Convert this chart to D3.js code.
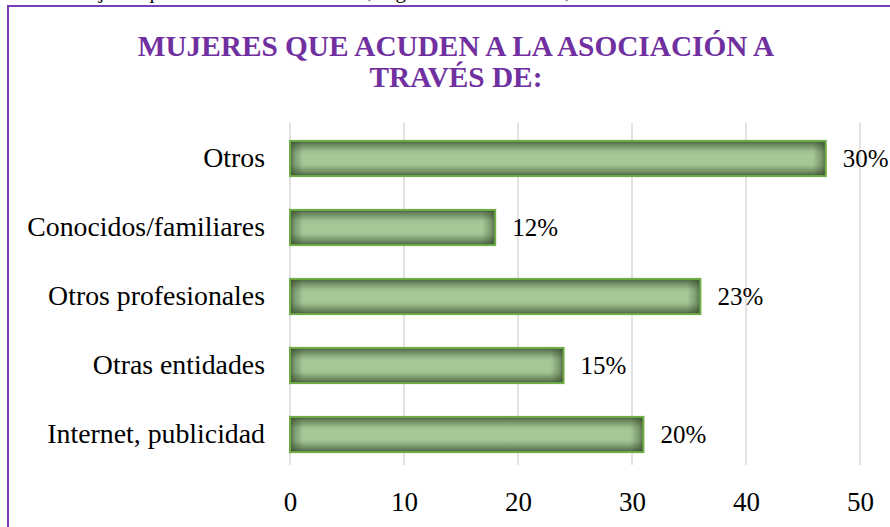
<!DOCTYPE html>
<html>
<head>
<meta charset="utf-8">
<script src="https://cdn.jsdelivr.net/npm/d3@7"></script>
<style>
  html, body { margin: 0; padding: 0; background: #fff; overflow: hidden; }
  svg { display: block; }
</style>
</head>
<body>
<script>
// ---- data ----
const categories = ["Otros", "Conocidos/familiares", "Otros profesionales", "Otras entidades", "Internet, publicidad"];
const values = [47, 18, 36, 24, 31];
const percentLabels = ["30%", "12%", "23%", "15%", "20%"];
const tickValues = [0, 10, 20, 30, 40, 50];
const titleLines = ["MUJERES QUE ACUDEN A LA ASOCIACIÓN A", "TRAVÉS DE:"];

const W = 890, H = 527;
const FONT = "Liberation Serif, DejaVu Serif, Times, serif";
const svg = d3.select("body").append("svg").attr("width", W).attr("height", H);

const defs = svg.append("defs");
const shade = "#2f4427";
const gv = defs.append("linearGradient").attr("id", "gv").attr("x1", 0).attr("y1", 0).attr("x2", 0).attr("y2", 1);
[[0, 0.8], [0.1, 0.5], [0.3, 0.06], [0.4, 0], [0.6, 0], [0.7, 0.06], [0.9, 0.5], [1, 0.8]].forEach(([o, a]) =>
  gv.append("stop").attr("offset", o).attr("stop-color", shade).attr("stop-opacity", a));
const gl = defs.append("linearGradient").attr("id", "gl").attr("x1", 0).attr("y1", 0).attr("x2", 1).attr("y2", 0);
[[0, 0.7], [0.35, 0.35], [1, 0]].forEach(([o, a]) =>
  gl.append("stop").attr("offset", o).attr("stop-color", shade).attr("stop-opacity", a));
const gr = defs.append("linearGradient").attr("id", "gr").attr("x1", 1).attr("y1", 0).attr("x2", 0).attr("y2", 0);
[[0, 0.7], [0.35, 0.35], [1, 0]].forEach(([o, a]) =>
  gr.append("stop").attr("offset", o).attr("stop-color", shade).attr("stop-opacity", a));

// cropped text line above the frame
svg.append("text")
  .attr("x", 72).attr("y", -2)
  .style("font-family", FONT)
  .attr("font-size", 21).attr("fill", "#000")
  .text("mujeres que acuden a la asociación, según la vía de acceso,");

// frame
svg.append("rect")
  .attr("x", 8).attr("y", 6).attr("width", W + 60).attr("height", H + 60)
  .attr("fill", "none").attr("stroke", "#7a3fb4").attr("stroke-width", 2);

// title
svg.append("g").selectAll("text").data(titleLines).join("text")
  .attr("x", 456).attr("y", (d, i) => 56 + i * 31)
  .attr("text-anchor", "middle")
  .style("font-family", FONT)
  .attr("font-weight", "bold").attr("font-size", 29.3)
  .attr("fill", "#7030a0")
  .text(d => d);

// scales
const x = d3.scaleLinear().domain([0, 50]).range([290, 860]);
const y = d3.scaleBand().domain(categories).range([124, 469]).paddingInner(0.49).paddingOuter(0.245);

// gridlines
svg.append("g").selectAll("line").data(tickValues).join("line")
  .attr("x1", d => x(d)).attr("x2", d => x(d))
  .attr("y1", 123).attr("y2", 465)
  .attr("stroke", "#d9d9d9").attr("stroke-width", 1.5);

// x axis
const xAxis = svg.append("g").attr("transform", "translate(0,465)")
  .call(d3.axisBottom(x).tickValues(tickValues).tickSize(0).tickPadding(27));
xAxis.select(".domain").remove();
xAxis.selectAll("text")
  .style("font-family", FONT)
  .attr("font-size", 27).attr("fill", "#000");

// y axis labels
const yAxis = svg.append("g").attr("transform", "translate(290,0)")
  .call(d3.axisLeft(y).tickSize(0).tickPadding(25));
yAxis.select(".domain").remove();
yAxis.selectAll("text")
  .style("font-family", FONT)
  .attr("font-size", 27.8).attr("fill", "#000");

// bars
const bars = svg.append("g");
const bw = (i) => x(values[i]) - x(0);
bars.selectAll("rect.fill").data(categories).join("rect")
  .attr("class", "fill")
  .attr("x", x(0)).attr("y", d => y(d))
  .attr("width", (d, i) => bw(i)).attr("height", y.bandwidth())
  .attr("fill", "#a6c897");
bars.selectAll("rect.shv").data(categories).join("rect")
  .attr("class", "shv")
  .attr("x", x(0)).attr("y", d => y(d))
  .attr("width", (d, i) => bw(i)).attr("height", y.bandwidth())
  .attr("fill", "url(#gv)");
bars.selectAll("rect.shl").data(categories).join("rect")
  .attr("class", "shl")
  .attr("x", x(0)).attr("y", d => y(d))
  .attr("width", 13).attr("height", y.bandwidth())
  .attr("fill", "url(#gl)");
bars.selectAll("rect.shr").data(categories).join("rect")
  .attr("class", "shr")
  .attr("x", (d, i) => x(values[i]) - 13).attr("y", d => y(d))
  .attr("width", 13).attr("height", y.bandwidth())
  .attr("fill", "url(#gr)");
bars.selectAll("rect.edge").data(categories).join("rect")
  .attr("class", "edge")
  .attr("x", x(0)).attr("y", d => y(d))
  .attr("width", (d, i) => bw(i)).attr("height", y.bandwidth())
  .attr("fill", "none")
  .attr("stroke", "#70ad47").attr("stroke-width", 2);

// value labels
svg.append("g").selectAll("text").data(categories).join("text")
  .attr("x", (d, i) => x(values[i]) + 17)
  .attr("y", d => y(d) + y.bandwidth() / 2)
  .attr("dy", "0.35em")
  .style("font-family", FONT)
  .attr("font-size", 25).attr("fill", "#000")
  .text((d, i) => percentLabels[i]);
</script>
</body>
</html>
